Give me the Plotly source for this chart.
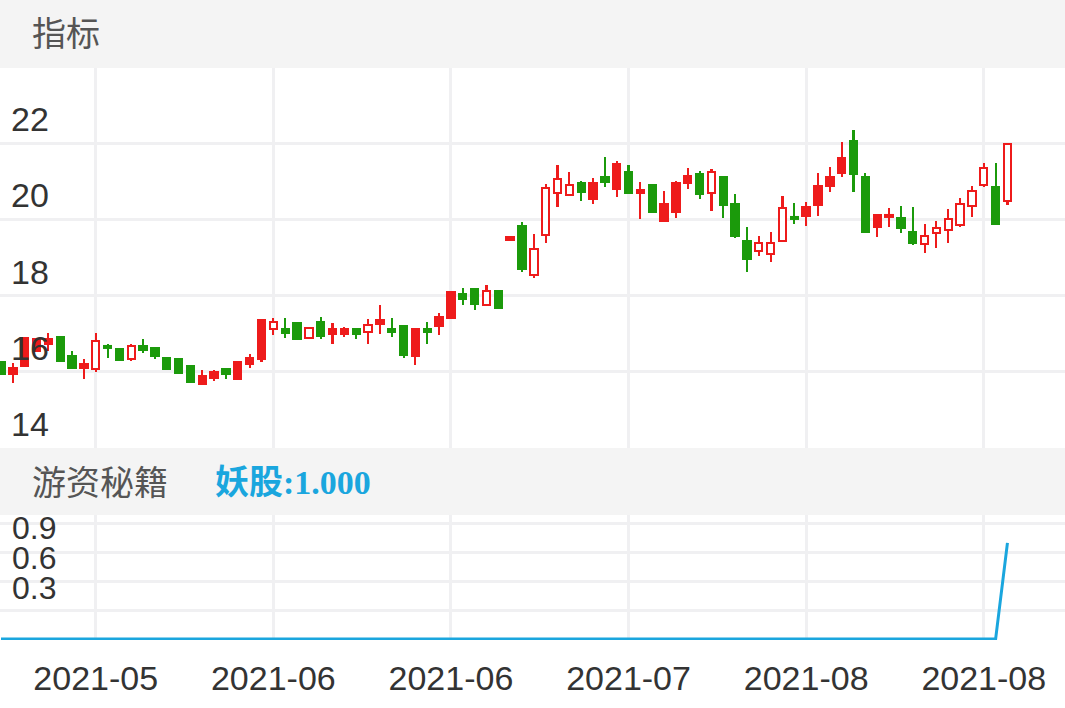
import plotly.graph_objects as go

# candle kind: U = hollow red (up), R = filled red, G = filled green
kind = ("G R R R R G G R U G "
        "G U G G G G G R R G "
        "R R R U G G U G R R "
        "G U R G G R G R R G "
        "G U G R G U U U U G "
        "R G R G R G R R R G "
        "U G G G U U U G R R "
        "R R G G R R G G U U "
        "U U U U G U").split()
opens = [16.26, 16.11, 16.89, 16.87, 16.87, 16.92, 16.42, 16.21, 16.08, 16.68,
         16.61, 16.34, 16.68, 16.63, 16.37, 16.34, 16.16, 15.90, 16.00, 16.08,
         16.26, 16.37, 17.37, 17.13, 17.13, 17.29, 16.89, 17.32, 17.13, 17.13,
         17.13, 17.05, 17.37, 17.13, 17.21, 17.13, 17.13, 17.45, 18.10, 18.05,
         18.18, 17.76, 18.13, 19.53, 19.82, 18.53, 19.58, 20.68, 20.63, 20.95,
         20.95, 21.11, 21.45, 21.24, 20.76, 20.90, 20.39, 20.95, 21.13, 21.18,
         20.68, 21.11, 20.39, 19.42, 19.16, 19.08, 19.42, 20.05, 20.32, 20.87,
         21.11, 21.61, 22.05, 21.11, 20.11, 20.11, 20.03, 19.66, 19.34, 19.63,
         19.71, 19.84, 20.34, 20.90, 20.84, 20.47]
highs = [16.26, 16.24, 16.89, 16.89, 17.03, 16.92, 16.55, 16.34, 17.03, 16.74,
         16.61, 16.74, 16.87, 16.63, 16.37, 16.34, 16.16, 16.05, 16.05, 16.08,
         16.26, 16.47, 17.37, 17.42, 17.42, 17.29, 17.16, 17.45, 17.29, 17.18,
         17.13, 17.39, 17.76, 17.42, 17.21, 17.16, 17.32, 17.53, 18.10, 18.21,
         18.21, 18.29, 18.13, 19.53, 19.92, 19.61, 20.92, 21.42, 21.24, 21.00,
         21.08, 21.63, 21.53, 21.42, 20.97, 20.90, 20.74, 21.00, 21.34, 21.26,
         21.32, 21.11, 20.66, 19.79, 19.55, 19.66, 20.61, 20.42, 20.45, 21.21,
         21.37, 22.03, 22.34, 21.21, 20.13, 20.29, 20.34, 20.32, 19.87, 19.95,
         20.26, 20.55, 20.87, 21.47, 21.47, 21.97]
lows = [15.95, 15.71, 16.16, 16.55, 16.55, 16.26, 16.11, 15.82, 16.00, 16.37,
        16.32, 16.29, 16.50, 16.34, 16.08, 15.97, 15.74, 15.68, 15.76, 15.82,
        15.82, 16.11, 16.26, 16.97, 16.89, 16.87, 16.89, 16.87, 16.74, 16.92,
        16.87, 16.74, 17.00, 16.92, 16.37, 16.18, 16.74, 16.97, 17.42, 17.74,
        17.63, 17.74, 17.68, 19.47, 18.63, 18.47, 19.39, 20.32, 20.61, 20.47,
        20.39, 20.84, 20.58, 20.66, 20.00, 20.18, 19.92, 20.03, 20.79, 20.53,
        20.21, 20.03, 19.50, 18.63, 19.03, 18.89, 19.42, 19.89, 19.82, 20.08,
        20.71, 21.11, 20.71, 19.66, 19.53, 19.79, 19.63, 19.32, 19.11, 19.26,
        19.39, 19.79, 20.05, 20.84, 19.89, 20.37]
closes = [15.95, 15.95, 16.16, 16.55, 16.74, 16.29, 16.11, 16.11, 16.82, 16.63,
          16.32, 16.68, 16.58, 16.42, 16.08, 15.97, 15.74, 15.68, 15.84, 15.95,
          15.82, 16.21, 16.34, 17.32, 17.03, 16.87, 17.16, 16.95, 17.00, 17.00,
          17.00, 17.24, 17.26, 17.05, 16.45, 16.42, 17.05, 17.21, 17.42, 17.90,
          17.79, 18.13, 17.68, 19.47, 18.71, 19.21, 20.81, 21.05, 20.90, 20.71,
          20.53, 20.97, 20.79, 20.68, 20.68, 20.18, 19.95, 20.18, 20.95, 20.66,
          21.24, 20.37, 19.55, 18.95, 19.37, 19.37, 20.29, 20.00, 20.08, 20.37,
          20.87, 21.21, 21.18, 19.66, 19.79, 20.05, 19.76, 19.37, 19.55, 19.76,
          20.00, 20.39, 20.74, 21.34, 19.89, 21.97]
yaogu = [0] * 85 + [1.0]

tick_idx = [8, 23, 38, 53, 68, 83]
tick_text = ["2021-05", "2021-06", "2021-06", "2021-07", "2021-08", "2021-08"]
low_labels = ["0.9", "0.6", "0.3"]

RED = "#ee1b1b"
GREEN = "#1b9a0b"
BLUE = "#1aa6de"
GRID = "#f0f0f2"
FONT = "Liberation Sans, Noto Sans CJK SC"

n = len(closes)
idx = list(range(n))
col = [GREEN if k == "G" else RED for k in kind]
fill = ["white" if k == "U" else c for k, c in zip(kind, col)]
b_lo = [min(o, c) for o, c in zip(opens, closes)]
b_h = [max(abs(o - c), 0.05) for o, c in zip(opens, closes)]

fig = go.Figure()

# wicks
fig.add_trace(go.Bar(
    x=idx, base=lows, y=[h - l for h, l in zip(highs, lows)],
    width=0.18, marker=dict(color=col, line=dict(width=0)),
    xaxis="x", yaxis="y", hoverinfo="skip",
))
# bodies
fig.add_trace(go.Bar(
    x=idx, base=b_lo, y=b_h, width=0.62,
    marker=dict(color=fill, line=dict(color=col, width=2)),
    xaxis="x", yaxis="y",
))
# lower indicator
fig.add_trace(go.Scatter(
    x=idx, y=yaogu, mode="lines", line=dict(color=BLUE, width=3),
    xaxis="x2", yaxis="y2",
))

xr = [-0.084, 89.86]
fig.update_layout(
    width=1065, height=708, margin=dict(l=0, r=0, t=0, b=0),
    paper_bgcolor="white", plot_bgcolor="white",
    showlegend=False, barmode="overlay", bargap=0,
    font=dict(family=FONT, color="#333333"),
    xaxis=dict(domain=[0, 1], range=xr, tickvals=tick_idx, showticklabels=False,
               showgrid=True, gridcolor=GRID, gridwidth=3, zeroline=False,
               anchor="y", fixedrange=True),
    yaxis=dict(domain=[0.3672, 0.9040], range=[14, 23.97],
               tickvals=[14, 16, 18, 20, 22], ticklabelposition="inside top",
               ticklabelstandoff=8,
               tickfont=dict(size=34, color="#333333"), showgrid=True,
               gridcolor=GRID, gridwidth=3, zeroline=False, anchor="x"),
    xaxis2=dict(domain=[0, 1], range=xr, tickvals=tick_idx, ticktext=tick_text,
                tickfont=dict(size=34, color="#333333"), ticks="outside",
                ticklen=8, tickcolor="rgba(0,0,0,0)", showgrid=True,
                gridcolor=GRID, gridwidth=3, zeroline=False, anchor="y2"),
    yaxis2=dict(domain=[0.0960, 0.2726], range=[-0.01, 1.29],
                tickvals=[0.3, 0.6, 0.9, 1.2], showticklabels=False,
                showgrid=True, gridcolor=GRID, gridwidth=3, zeroline=False,
                anchor="x2"),
)

# header bands
for y0, y1 in [(0.9040, 1.0), (0.2726, 0.3672)]:
    fig.add_shape(type="rect", xref="paper", yref="paper", x0=0, x1=1,
                  y0=y0, y1=y1, fillcolor="#f4f4f4", line=dict(width=0),
                  layer="below")

# lower panel labels sit in the top part of the panel, stacked
for k, lab in enumerate(low_labels):
    fig.add_annotation(text=lab, xref="paper", yref="paper", x=10 / 1065,
                       y=1 - (528 + 30 * k) / 708, xanchor="left",
                       yanchor="middle", showarrow=False,
                       font=dict(size=32, color="#333333"))

fig.add_annotation(text="指标", xref="paper", yref="paper", x=30 / 1065,
                   y=1 - 34 / 708, xanchor="left", yanchor="middle",
                   showarrow=False, font=dict(size=34, color="#555555"))
fig.add_annotation(text="游资秘籍", xref="paper", yref="paper", x=30 / 1065,
                   y=1 - 483 / 708, xanchor="left", yanchor="middle",
                   showarrow=False, font=dict(size=34, color="#555555"))
fig.add_annotation(text="<b>妖股:1.000</b>", xref="paper", yref="paper",
                   x=213 / 1065, y=1 - 483 / 708, xanchor="left",
                   yanchor="middle", showarrow=False,
                   font=dict(size=34, color=BLUE,
                             family="Liberation Serif, Noto Sans CJK SC"))

fig.write_html("out.html", config={"displayModeBar": False},
               post_script="document.body.style.margin='0';")
